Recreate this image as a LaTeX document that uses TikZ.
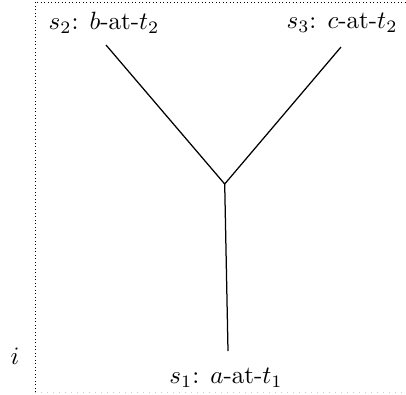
\documentclass[tikz,border=0pt]{standalone}
\begin{document}
\begin{tikzpicture}[x=0.4pt,y=-0.4pt,
  lbl/.style={inner sep=0pt},
  frame/.style={densely dotted, line width=0.4pt},
  edge/.style={line width=0.5pt}]
\useasboundingbox (0,0) rectangle (406,394);
\draw[frame] (35,392) -- (35,2) -- (406,2);
\draw[dotted, gray!40, line width=0.4pt] (35,392) -- (406,392);
\node[lbl] (i) at (15,356) {$i$};
\node[lbl] (s2) at (104,23) {$s_2$: $b$-at-$t_2$};
\node[lbl] (s3) at (342,23) {$s_3$: $c$-at-$t_2$};
\node[lbl] (s1) at (226,378) {$s_1$: $a$-at-$t_1$};
\coordinate (j) at (224.7,184);
\coordinate (e2) at (106,45);
\coordinate (e3) at (341,47);
\coordinate (e1) at (228,351);
\draw[edge] (e2) -- (j) -- (e3);
\draw[edge] (j) -- (e1);
\end{tikzpicture}
\end{document}
